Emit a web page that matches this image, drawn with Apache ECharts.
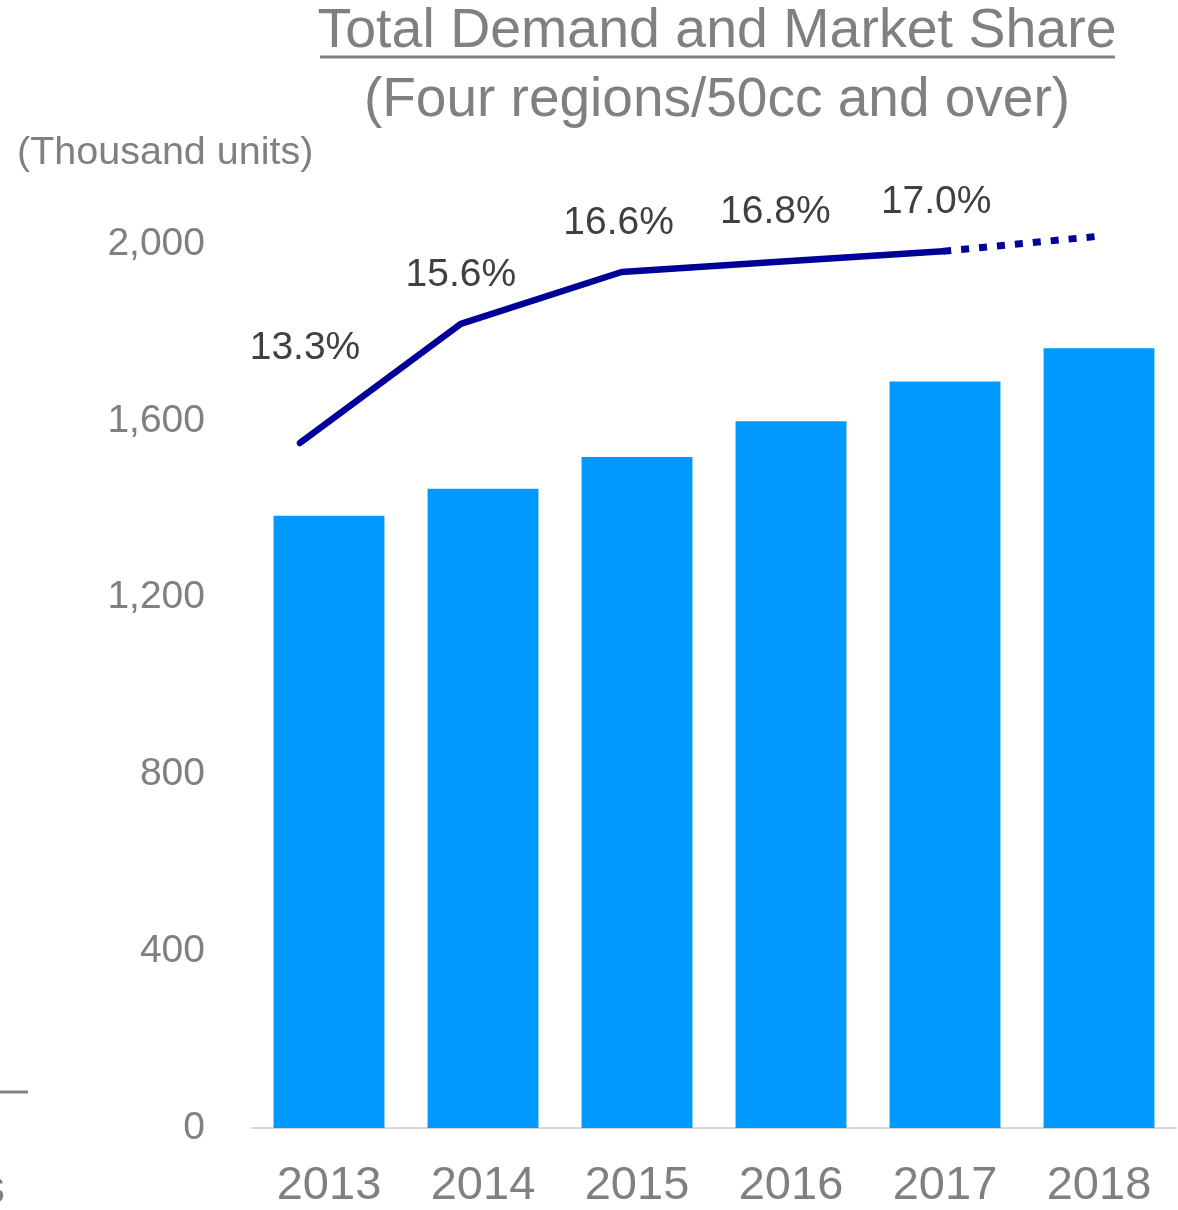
<!DOCTYPE html>
<html>
<head>
<meta charset="utf-8">
<title>Total Demand and Market Share</title>
<script src="https://cdn.jsdelivr.net/npm/echarts@6/dist/echarts.min.js"></script>
<style>
  html, body { margin: 0; padding: 0; background: #ffffff; }
  #chart { width: 1178px; height: 1210px; }
</style>
</head>
<body>
<div id="chart"></div>
<script>
// Fiscal years on the category axis
const years = ['2013', '2014', '2015', '2016', '2017', '2018'];
// Total demand, four regions, 50cc and over (thousand units)
const totalDemand = [1385, 1446, 1518, 1599, 1689, 1764];
// Market share (%); the last year is a forecast
const marketShare = [13.3, 15.6, 16.6, 16.8, 17.0, 17.3];
// Index of the last actual year; the segment after it is drawn dotted
const lastActualIndex = 4;
// Left value-axis ticks
const demandTicks = [0, 400, 800, 1200, 1600, 2000];

const FONT = '"Liberation Sans", Arial, Helvetica, sans-serif';
const GRAY = '#808080';
const BAR_BLUE = '#0099ff';
const NAVY = '#000099';

// Per-point nudges for the share labels
const shareLabelOffsets = [[5, -46], [0, 0], [-3, 0], [-7, 0], [-7, 0], [0, 0]];

const actualShare = marketShare.map((v, i) => {
  if (i > lastActualIndex) return '-';
  return {
    value: v,
    label: { offset: shareLabelOffsets[i] }
  };
});
const forecastShare = marketShare.map((v, i) => (i >= lastActualIndex ? v : '-'));

const fmtThousands = v => String(v).replace(/\B(?=(\d{3})+(?!\d))/g, ',');

const chart = echarts.init(document.getElementById('chart'), null, { renderer: 'canvas' });

const option = {
  backgroundColor: '#ffffff',
  animation: false,
  textStyle: { fontFamily: FONT },
  graphic: [
    {
      type: 'text',
      x: 717, y: 32,
      style: {
        text: 'Total Demand and Market Share',
        fill: GRAY, fontFamily: FONT, fontSize: 55.5,
        align: 'center', verticalAlign: 'middle'
      }
    },
    {
      type: 'line',
      shape: { x1: 320, y1: 57, x2: 1115, y2: 57 },
      style: { stroke: GRAY, lineWidth: 3 }
    },
    {
      type: 'text',
      x: 717, y: 101,
      style: {
        text: '(Four regions/50cc and over)',
        fill: GRAY, fontFamily: FONT, fontSize: 55,
        align: 'center', verticalAlign: 'middle'
      }
    },
    {
      type: 'text',
      x: 17, y: 153,
      style: {
        text: '(Thousand units)',
        fill: GRAY, fontFamily: FONT, fontSize: 39.5,
        align: 'left', verticalAlign: 'middle'
      }
    },
    {
      type: 'line',
      shape: { x1: 0, y1: 1092, x2: 28, y2: 1092 },
      style: { stroke: GRAY, lineWidth: 3 }
    },
    {
      type: 'text',
      x: -19, y: 1190,
      style: {
        text: 's',
        fill: GRAY, fontFamily: FONT, fontSize: 48,
        align: 'left', verticalAlign: 'middle'
      }
    }
  ],
  grid: [
    { left: 252, right: 2, top: 244, bottom: 78 },
    { left: 300, right: 74, top: 244, bottom: 78 }
  ],
  xAxis: [
    {
      gridIndex: 0,
      type: 'category',
      data: years,
      axisLine: { show: true, lineStyle: { color: '#d9d9d9', width: 2 } },
      axisTick: { show: false },
      axisLabel: { color: GRAY, fontSize: 47, fontFamily: FONT, margin: 35 },
      splitLine: { show: false }
    },
    {
      gridIndex: 1,
      type: 'category',
      data: years,
      boundaryGap: false,
      show: false
    }
  ],
  yAxis: [
    {
      gridIndex: 0,
      type: 'value',
      min: demandTicks[0],
      max: demandTicks[demandTicks.length - 1],
      interval: demandTicks[1] - demandTicks[0],
      axisLine: { show: false },
      axisTick: { show: false },
      splitLine: { show: false },
      axisLabel: {
        color: GRAY, fontSize: 39, fontFamily: FONT, margin: 47,
        padding: [0, 0, 8, 0],
        formatter: v => fmtThousands(v)
      }
    },
    {
      gridIndex: 1,
      type: 'value',
      min: 0,
      max: 17.14,
      show: false,
      splitLine: { show: false }
    }
  ],
  series: [
    {
      name: 'Total demand',
      type: 'bar',
      xAxisIndex: 0,
      yAxisIndex: 0,
      data: totalDemand,
      barWidth: '72%',
      itemStyle: { color: BAR_BLUE }
    },
    {
      name: 'Market share (forecast)',
      type: 'line',
      xAxisIndex: 1,
      yAxisIndex: 1,
      data: forecastShare,
      clip: false,
      symbol: 'none',
      lineStyle: { color: NAVY, width: 7, type: [8, 10], cap: 'butt' },
      z: 3
    },
    {
      name: 'Market share',
      type: 'line',
      xAxisIndex: 1,
      yAxisIndex: 1,
      data: actualShare,
      clip: false,
      symbol: 'circle',
      symbolSize: 1,
      showSymbol: true,
      itemStyle: { color: NAVY },
      lineStyle: { color: NAVY, width: 6.5, cap: 'round', join: 'round' },
      label: {
        show: true,
        position: 'top',
        distance: 29,
        color: '#404040',
        fontSize: 39,
        fontFamily: FONT,
        formatter: p => Number(p.value).toFixed(1) + '%'
      },
      z: 4
    }
  ]
};

chart.setOption(option);
</script>
</body>
</html>
